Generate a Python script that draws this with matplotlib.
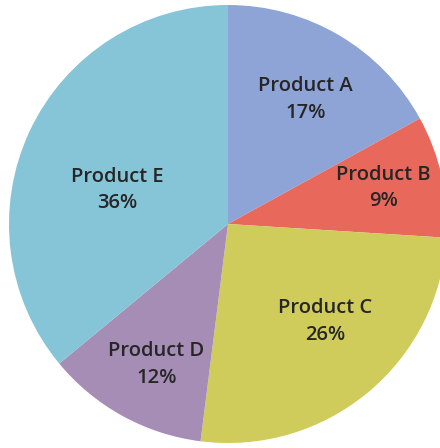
import matplotlib.pyplot as plt
import numpy as np

products = ['Product A', 'Product B', 'Product C', 'Product D', 'Product E']
shares = [17, 9, 26, 12, 36]
colors = ['#8ea4d6', '#e8695c', '#cfcc5c', '#a58db6', '#86c4d7']

# where each label sits: (fraction of radius, angle in degrees)
label_pos = [(0.67, 58), (0.73, 13), (0.63, -45), (0.72, -117), (0.53, 163)]

fig = plt.figure(figsize=(4.4, 4.48), dpi=100)
ax = fig.add_axes([9 / 440, 5 / 448, 438 / 440, 438 / 448])

ax.pie(shares, colors=colors, startangle=90, counterclock=False,
       radius=1, wedgeprops=dict(linewidth=0))

for name, val, (r, ang) in zip(products, shares, label_pos):
    x = r * np.cos(np.radians(ang))
    y = r * np.sin(np.radians(ang))
    ax.text(x, y, f'{name}\n{val}%', ha='center', va='center',
            fontsize=14.5, fontweight='semibold', family='Open Sans',
            color='#262626', linespacing=1.45)

ax.set_xlim(-1, 1)
ax.set_ylim(-1, 1)
ax.set_aspect('equal')
ax.axis('off')

fig.savefig('out.png', dpi=100)
